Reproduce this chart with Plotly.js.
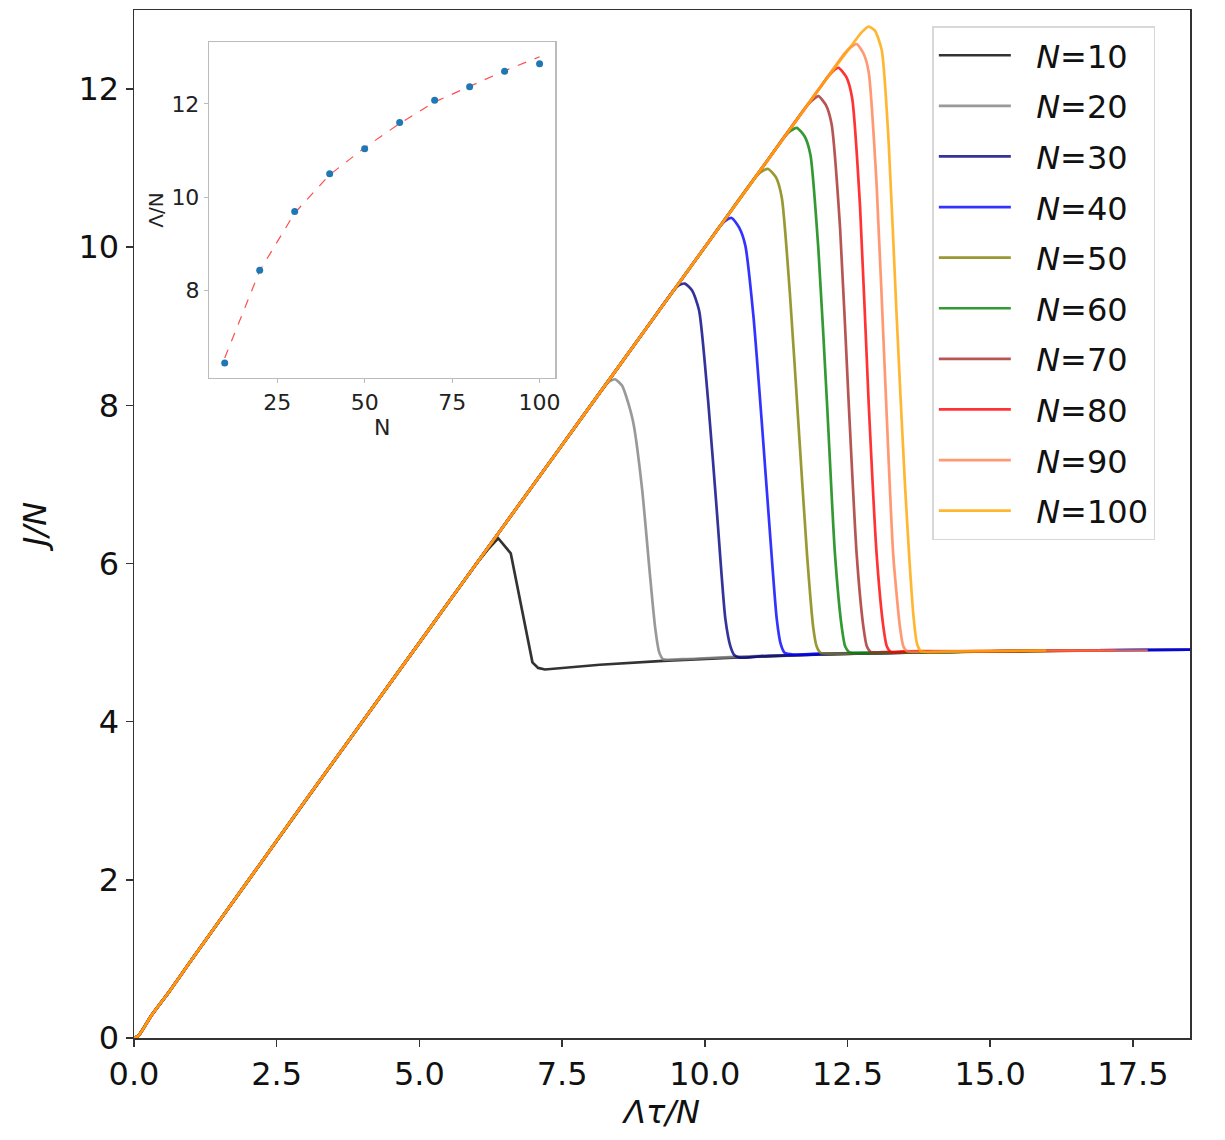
<!DOCTYPE html>
<html>
<head>
<meta charset="utf-8">
<script src="https://cdn.plot.ly/plotly-3.0.1.min.js"></script>
<style>html,body{margin:0;padding:0;background:#fff;}#chart{width:1225px;height:1140px;}</style>
</head>
<body>
<div id="chart"></div>
<script>
// ---- data: shared rising part (J/N vs Λτ/N) ----
const riseX = [0, 0.08, 0.3, 0.6, 1.0, 2.0, 3.0, 4.0, 5.0, 6.0, 7.0, 8.0, 9.0, 10.0, 11.0, 12.0, 12.6];
const riseY = [0, 0.03, 0.28, 0.57, 0.98, 1.99, 3.0, 4.0, 5.0, 6.0, 7.0, 8.0, 9.0, 10.0, 11.0, 12.0, 12.58];

// ---- per-N tails (peak, drop, plateau) ----
const x10 = [6.2, 6.38, 6.60, 6.98, 7.08, 7.20, 8.16, 9.27, 10.5, 12.0, 14.0, 16.0, 18.5];
const y10 = [6.18, 6.32, 6.13, 4.75, 4.68, 4.66, 4.72, 4.77, 4.81, 4.85, 4.88, 4.90, 4.91];
const x20 = [8.2, 8.32, 8.43, 8.55, 8.65, 8.75, 8.90, 9.04, 9.13, 9.2, 9.27, 9.6, 10.5, 12, 14, 16, 18.5];
const y20 = [8.2, 8.3, 8.33, 8.25, 8.05, 7.77, 6.95, 5.85, 5.19, 4.88, 4.79, 4.79, 4.82, 4.85, 4.88, 4.90, 4.91];
const x30 = [9.45, 9.55, 9.65, 9.78, 9.90, 10.06, 10.21, 10.36, 10.45, 10.52, 10.62, 11, 12, 14, 16, 18.5];
const y30 = [9.45, 9.52, 9.54, 9.45, 9.20, 8.04, 6.67, 5.30, 4.95, 4.84, 4.81, 4.83, 4.85, 4.88, 4.90, 4.91];
const x40 = [10.25, 10.35, 10.47, 10.6, 10.71, 10.85, 11.0, 11.14, 11.26, 11.33, 11.40, 11.55, 12, 14, 16, 18.5];
const y40 = [10.25, 10.33, 10.37, 10.25, 10.02, 9.14, 7.77, 6.40, 5.30, 4.98, 4.87, 4.85, 4.86, 4.88, 4.90, 4.91];
const x50 = [10.9, 11.0, 11.11, 11.25, 11.35, 11.49, 11.64, 11.79, 11.90, 11.96, 12.03, 12.2, 14, 16.5];
const y50 = [10.9, 10.96, 10.99, 10.88, 10.62, 9.42, 7.77, 6.12, 5.19, 4.95, 4.87, 4.86, 4.88, 4.90];
const x60 = [11.4, 11.5, 11.61, 11.75, 11.85, 11.99, 12.14, 12.28, 12.40, 12.46, 12.53, 12.7, 14, 16.8];
const y60 = [11.4, 11.47, 11.51, 11.40, 11.17, 9.97, 8.04, 6.12, 5.19, 4.95, 4.88, 4.87, 4.88, 4.90];
const x70 = [11.8, 11.9, 11.99, 12.12, 12.22, 12.37, 12.52, 12.66, 12.78, 12.84, 12.91, 13.1, 14.5, 17.0];
const y70 = [11.8, 11.87, 11.91, 11.80, 11.56, 10.24, 8.04, 6.12, 5.19, 4.95, 4.88, 4.88, 4.89, 4.90];
const x80 = [12.15, 12.25, 12.34, 12.48, 12.58, 12.72, 12.87, 13.01, 13.13, 13.19, 13.26, 13.5, 15, 17.2];
const y80 = [12.15, 12.23, 12.27, 12.15, 11.89, 10.51, 8.04, 6.12, 5.19, 4.95, 4.88, 4.89, 4.89, 4.90];
const x90 = [12.45, 12.56, 12.66, 12.78, 12.87, 13.01, 13.16, 13.30, 13.42, 13.48, 13.55, 14, 15.5, 17.76];
const y90 = [12.45, 12.53, 12.57, 12.45, 12.22, 10.79, 8.32, 6.12, 5.19, 4.95, 4.89, 4.89, 4.90, 4.90];
const x100 = [12.75, 12.87, 12.98, 13.10, 13.22, 13.36, 13.51, 13.66, 13.72, 13.79, 14.5, 15.98];
const y100 = [12.72, 12.79, 12.74, 12.49, 11.34, 9.14, 6.95, 5.30, 4.98, 4.89, 4.89, 4.90];

const seriesN = [10, 20, 30, 40, 50, 60, 70, 80, 90, 100];
const tailsX = [x10, x20, x30, x40, x50, x60, x70, x80, x90, x100];
const tailsY = [y10, y20, y30, y40, y50, y60, y70, y80, y90, y100];
const seriesColors = ['rgba(0,0,0,0.8)', 'rgba(128,128,128,0.8)', 'rgba(0,0,128,0.8)', 'rgba(0,0,255,0.8)',
  'rgba(128,128,0,0.8)', 'rgba(0,128,0,0.8)', 'rgba(165,42,42,0.8)', 'rgba(255,0,0,0.8)',
  'rgba(255,127,80,0.8)', 'rgba(255,165,0,0.8)'];

// ---- inset data: Λ/N vs N ----
const insetN = [10, 20, 30, 40, 50, 60, 70, 80, 90, 100];
const insetVal = [6.44, 8.43, 9.69, 10.5, 11.04, 11.6, 12.08, 12.37, 12.7, 12.86];
const insetFit = [6.55, 8.42, 9.66, 10.48, 11.06, 11.58, 12.04, 12.38, 12.71, 13.01];

const FONT = 'DejaVu Sans, sans-serif';
const traces = [];
seriesN.forEach((n, i) => {
  const tx = tailsX[i], ty = tailsY[i];
  const xs = [], ys = [];
  riseX.forEach((v, k) => { if (v < tx[0]) { xs.push(v); ys.push(riseY[k]); } });
  traces.push({
    x: xs.concat(tx), y: ys.concat(ty), type: 'scatter', mode: 'lines',
    name: '\u00a0\u00a0<i>N</i>=' + n, legendgroup: 'g' + n,
    line: {color: seriesColors[i], width: 2.7, shape: i === 0 ? 'linear' : 'spline', smoothing: 0.6},
    xaxis: 'x', yaxis: 'y', hoverinfo: 'skip'
  });
});
traces.push({
  x: insetN, y: insetFit, type: 'scatter', mode: 'lines', showlegend: false,
  line: {color: 'rgba(255,0,0,0.7)', width: 1.2, dash: 'dash'}, xaxis: 'x2', yaxis: 'y2'
});
traces.push({
  x: insetN, y: insetVal, type: 'scatter', mode: 'markers', showlegend: false,
  marker: {color: '#1f77b4', size: 7}, xaxis: 'x2', yaxis: 'y2'
});

const layout = {
  width: 1225, height: 1140,
  margin: {l: 134, r: 35, t: 10, b: 102},
  paper_bgcolor: '#fff', plot_bgcolor: '#fff',
  font: {family: FONT, color: '#111', size: 32},
  showlegend: true,
  legend: {
    x: 0.756, y: 0.984, xanchor: 'left', yanchor: 'top',
    bgcolor: 'rgba(255,255,255,0.9)', bordercolor: '#d8d8d8', borderwidth: 1.5,
    font: {family: FONT, size: 32, color: '#111'},
    traceorder: 'grouped', tracegroupgap: 6, itemwidth: 72
  },
  xaxis: {
    domain: [0, 1], range: [0, 18.5], tickmode: 'array',
    tickvals: [0, 2.5, 5, 7.5, 10, 12.5, 15, 17.5], tickformat: '.1f',
    ticks: 'outside', ticklen: 7, tickwidth: 1.5, tickcolor: '#333',
    showline: true, mirror: true, linecolor: '#333', linewidth: 1.5,
    showgrid: false, zeroline: false,
    tickfont: {family: FONT, size: 32, color: '#111'},
    title: {text: '<i>Λτ/N</i>', font: {family: FONT, size: 32, color: '#111'}, standoff: 6}
  },
  yaxis: {
    domain: [0, 1], range: [0, 13], tickmode: 'array',
    tickvals: [0, 2, 4, 6, 8, 10, 12],
    ticks: 'outside', ticklen: 7, tickwidth: 1.5, tickcolor: '#333',
    showline: true, mirror: true, linecolor: '#333', linewidth: 1.5,
    showgrid: false, zeroline: false,
    tickfont: {family: FONT, size: 32, color: '#111'},
    title: {text: '<i>J/N</i>', font: {family: FONT, size: 32, color: '#111'}, standoff: 22}
  },
  xaxis2: {
    domain: [0.071, 0.399], anchor: 'y2', range: [5.5, 104.5],
    tickmode: 'array', tickvals: [25, 50, 75, 100],
    ticks: 'outside', ticklen: 4, tickcolor: '#bbb',
    showline: true, mirror: true, linecolor: '#bbb', linewidth: 1.2,
    showgrid: false, zeroline: false,
    tickfont: {family: FONT, size: 22, color: '#222'},
    title: {text: 'N', font: {family: FONT, size: 22, color: '#222'}, standoff: 2}
  },
  yaxis2: {
    domain: [0.642, 0.969], anchor: 'x2', range: [6.12, 13.33],
    tickmode: 'array', tickvals: [8, 10, 12],
    ticks: 'outside', ticklen: 4, tickcolor: '#bbb',
    showline: true, mirror: true, linecolor: '#bbb', linewidth: 1.2,
    showgrid: false, zeroline: false,
    tickfont: {family: FONT, size: 22, color: '#222'},
    title: {text: 'Λ/N', font: {family: FONT, size: 20, color: '#222'}, standoff: 2}
  }
};

Plotly.newPlot('chart', traces, layout, {displayModeBar: false, staticPlot: true});
</script>
</body>
</html>
